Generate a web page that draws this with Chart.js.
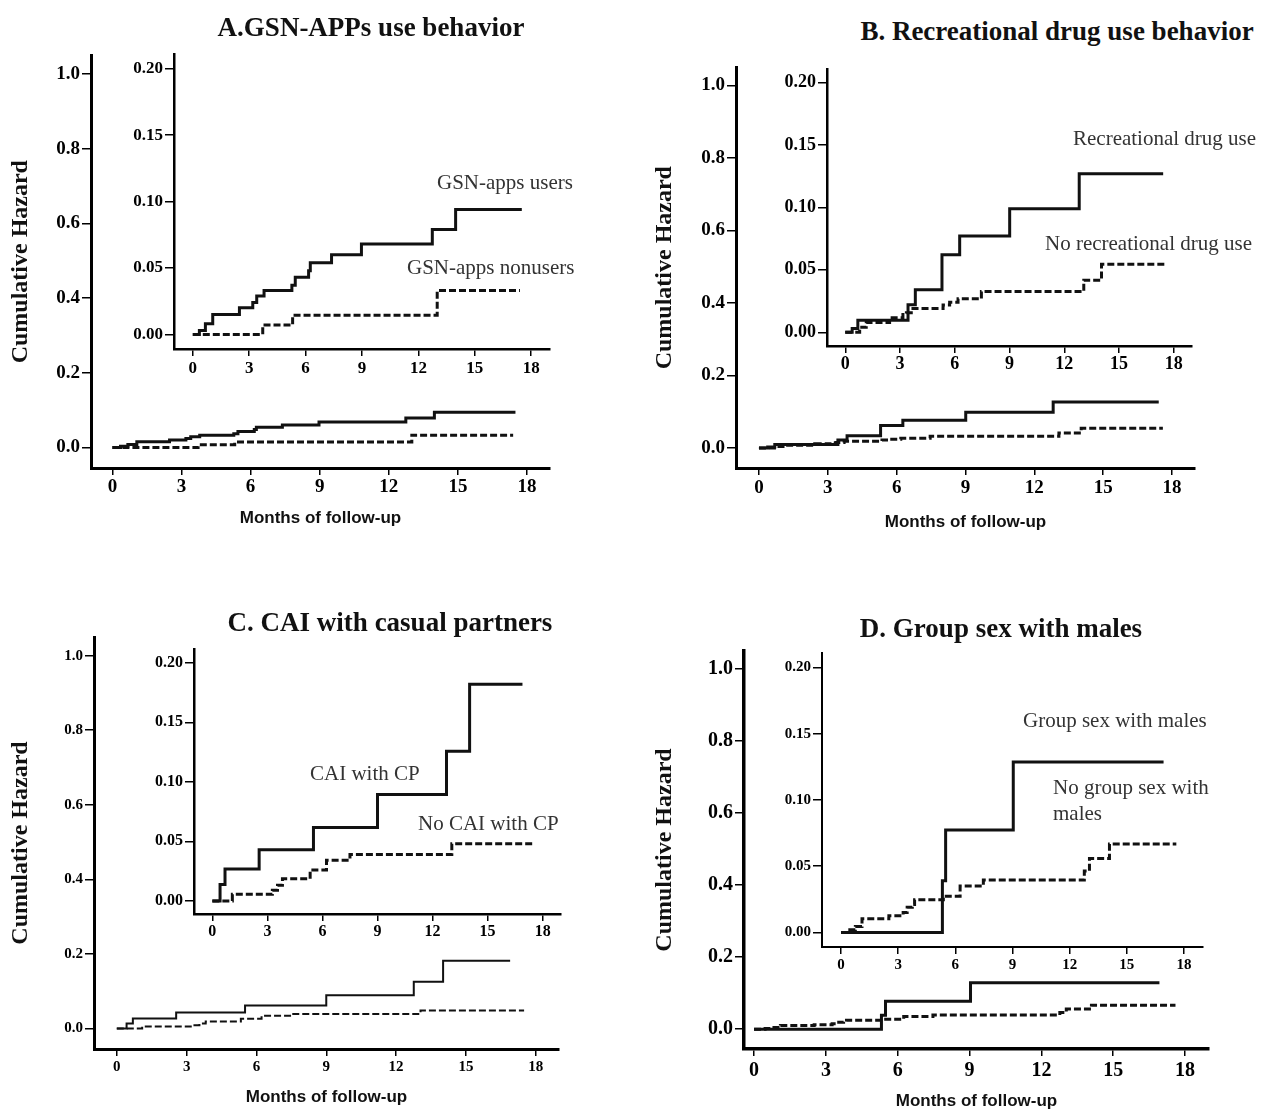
<!DOCTYPE html>
<html>
<head>
<meta charset="utf-8">
<script src="https://cdn.jsdelivr.net/npm/chart.js@4.4.0/dist/chart.umd.min.js"></script>
<style>
    body { margin: 0; background: #fff; }
    #page { position: relative; width: 1262px; height: 1110px; overflow: hidden; background: #fff; }
    #page canvas { position: absolute; }
    .panel-title {
        position: absolute; white-space: nowrap; color: #111;
        font: bold 27px "Liberation Serif", "Times New Roman", serif;
        transform: translate(-50%, -50%);
    }
    .note {
        position: absolute; white-space: nowrap; color: #333;
        font: 21px "Liberation Serif", "Times New Roman", serif;
        line-height: 26px; transform: translateY(-50%);
    }
</style>
</head>
<body>
<div id="page"></div>
<script>
// Axis ticks
const monthTicks = [0, 3, 6, 9, 12, 15, 18];
const mainHazardTicks = [0, 0.2, 0.4, 0.6, 0.8, 1.0];
const insetHazardTicks = [0, 0.05, 0.10, 0.15, 0.20];

// A. GSN-apps use
const appUsersMonths = [0, 0.35, 0.67, 1.06, 2.48, 3.19, 3.4, 3.79, 5.27, 5.45, 6.16, 6.25, 7.38, 8.97, 12.74, 13.98, 17.5];
const appUsersHazard = [0, 0.003, 0.008, 0.015, 0.020, 0.024, 0.029, 0.033, 0.037, 0.043, 0.048, 0.054, 0.060, 0.068, 0.079, 0.094, 0.094];
const appNonusersMonths = [0, 3.72, 5.31, 13.0, 17.4];
const appNonusersHazard = [0, 0.007, 0.0145, 0.033, 0.033];

// B. Recreational drug use
const drugUseMonths = [0, 0.38, 0.69, 3.44, 3.84, 5.3, 6.27, 9.01, 12.82, 17.42];
const drugUseHazard = [0, 0.003, 0.0096, 0.022, 0.034, 0.062, 0.077, 0.099, 0.127, 0.127];
const noDrugUseMonths = [0, 0.79, 1.15, 2.43, 3.16, 3.35, 3.71, 5.36, 5.72, 6.18, 7.46, 13.07, 14.04, 17.6];
const noDrugUseHazard = [0, 0.004, 0.0078, 0.0117, 0.0143, 0.0156, 0.019, 0.0219, 0.024, 0.0268, 0.0326, 0.0417, 0.0544, 0.0544];

// C. CAI with casual partners
const caiMonths = [0, 0.42, 0.69, 2.55, 5.51, 9.0, 12.76, 14.02, 16.9];
const caiHazard = [0, 0.0137, 0.0268, 0.0429, 0.0617, 0.0893, 0.1257, 0.182, 0.182];
const noCaiMonths = [0, 1.09, 3.27, 3.55, 3.82, 5.33, 6.22, 7.5, 13.05, 17.5];
const noCaiHazard = [0, 0.0055, 0.009, 0.0131, 0.0186, 0.026, 0.0342, 0.039, 0.048, 0.048];

// D. Group sex with males
const groupSexMonths = [0, 5.32, 5.49, 9.04, 16.93];
const groupSexHazard = [0, 0.039, 0.0773, 0.1286, 0.1286];
const noGroupSexMonths = [0, 0.46, 0.75, 1.1, 2.51, 3.26, 3.47, 3.74, 3.86, 5.37, 6.25, 7.47, 12.77, 13.04, 14.09, 17.6];
const noGroupSexHazard = [0, 0.002, 0.0044, 0.0104, 0.0126, 0.015, 0.019, 0.021, 0.0247, 0.0274, 0.035, 0.0395, 0.0464, 0.0558, 0.0667, 0.0667];

const SERIF = '"Liberation Serif", "Times New Roman", serif';
const SANS = '"Liberation Sans", Arial, sans-serif';

// Panel layout (pixel boxes are the axis lines of each plot)
const panels = [
    {
        title: 'A.GSN-APPs use behavior', titlePos: [371, 27],
        series: [
            { months: appUsersMonths, hazard: appUsersHazard, dashed: false },
            { months: appNonusersMonths, hazard: appNonusersHazard, dashed: true }
        ],
        notes: [
            { text: 'GSN-apps users', x: 437, y: 182 },
            { text: 'GSN-apps nonusers', x: 407, y: 267 }
        ],
        main: { box: [91, 48, 550, 468], canvasLeft: 0, xMin: -0.93, xAxisH: 61, tickSize: 19, lineWidth: 3, borderWidth: 3, xPad: 1 },
        inset: { box: [174, 48, 550, 349], tickSize: 17, lineWidth: 3, borderWidth: 2.5, xAxisH: 34, xPad: 2 }
    },
    {
        title: 'B. Recreational drug use behavior', titlePos: [1057, 31],
        series: [
            { months: drugUseMonths, hazard: drugUseHazard, dashed: false },
            { months: noDrugUseMonths, hazard: noDrugUseHazard, dashed: true }
        ],
        notes: [
            { text: 'Recreational drug use', x: 1073, y: 138 },
            { text: 'No recreational drug use', x: 1045, y: 243 }
        ],
        main: { box: [736, 60, 1195, 468], canvasLeft: 644, xMin: -1.0, xAxisH: 65, tickSize: 19, lineWidth: 3, borderWidth: 3, xPad: 2 },
        inset: { box: [827, 62, 1192, 346], tickSize: 18, lineWidth: 3, borderWidth: 2.5, xAxisH: 34, xPad: 1 }
    },
    {
        title: 'C. CAI with casual partners', titlePos: [390, 622],
        series: [
            { months: caiMonths, hazard: caiHazard, dashed: false },
            { months: noCaiMonths, hazard: noCaiHazard, dashed: true }
        ],
        notes: [
            { text: 'CAI with CP', x: 310, y: 773 },
            { text: 'No CAI with CP', x: 418, y: 823 }
        ],
        main: { box: [94, 632, 559, 1049], canvasLeft: 0, xMin: -0.98, xAxisH: 59, tickSize: 15, lineWidth: 2, borderWidth: 3, xPad: 2 },
        inset: { box: [194, 644, 561, 914], tickSize: 16, lineWidth: 3, borderWidth: 2.5, xAxisH: 32, xPad: 1 }
    },
    {
        title: 'D. Group sex with males', titlePos: [1001, 628],
        series: [
            { months: groupSexMonths, hazard: groupSexHazard, dashed: false },
            { months: noGroupSexMonths, hazard: noGroupSexHazard, dashed: true }
        ],
        notes: [
            { text: 'Group sex with males', x: 1023, y: 720 },
            { text: 'No group sex with<br>males', x: 1053, y: 800 }
        ],
        main: { box: [744, 643, 1209, 1049], canvasLeft: 644, xMin: -0.42, xAxisH: 63, tickSize: 20, lineWidth: 3, borderWidth: 3.5, xPad: 3 },
        inset: { box: [822, 648, 1203, 947], tickSize: 15, lineWidth: 3, borderWidth: 2, xAxisH: 32, xPad: 2 }
    }
];

const page = document.getElementById('page');

function makeCanvas(left, top, width, height) {
    const canvas = document.createElement('canvas');
    canvas.width = width;
    canvas.height = height;
    canvas.style.left = left + 'px';
    canvas.style.top = top + 'px';
    canvas.style.width = width + 'px';
    canvas.style.height = height + 'px';
    page.appendChild(canvas);
    return canvas;
}

function axisOptions(cfg, isMain, isX) {
    const tickValues = isX ? monthTicks : (isMain ? mainHazardTicks : insetHazardTicks);
    const digits = isMain ? 1 : 2;
    return {
        type: 'linear',
        border: { display: true, color: '#000', width: cfg.borderWidth },
        grid: { drawOnChartArea: false, drawTicks: true, tickLength: isX ? 7 : 9, color: '#000', lineWidth: 1.5 },
        ticks: {
            color: '#000',
            font: { family: SERIF, size: cfg.tickSize, weight: 'bold' },
            padding: isX ? cfg.xPad : 2,
            autoSkip: false,
            maxRotation: 0,
            callback: (value) => isX ? String(value) : Number(value).toFixed(digits)
        },
        afterBuildTicks: (scale) => {
            scale.ticks = tickValues.map(v => ({ value: v }));
        }
    };
}

function drawChart(panel, cfg, isMain) {
    const [left, top, right, bottom] = cfg.box;
    const padTop = 6, padRight = 6;
    const canvasLeft = isMain ? cfg.canvasLeft : left - 56;
    const canvasTop = top - padTop;
    const width = right + padRight - canvasLeft;
    const height = bottom + cfg.xAxisH - canvasTop;
    const yAxisW = left - canvasLeft;
    const canvas = makeCanvas(canvasLeft, canvasTop, width, height);

    const xScale = axisOptions(cfg, isMain, true);
    xScale.min = isMain ? cfg.xMin : -1;
    xScale.max = 19;
    xScale.afterFit = (scale) => { scale.height = cfg.xAxisH; };

    const yScale = axisOptions(cfg, isMain, false);
    yScale.min = isMain ? -0.055 : -0.011;
    yScale.max = isMain ? 1.05 : 0.211;
    yScale.afterFit = (scale) => { scale.width = yAxisW; };

    if (isMain) {
        xScale.title = {
            display: true, text: 'Months of follow-up', color: '#111',
            font: { family: SANS, size: 17, weight: 'bold' }, padding: 0
        };
        yScale.title = {
            display: true, text: 'Cumulative Hazard', color: '#111',
            font: { family: SERIF, size: 24, weight: 'bold' }, padding: { top: 6, bottom: 0 }
        };
    }

    return new Chart(canvas.getContext('2d'), {
        type: 'line',
        data: {
            datasets: panel.series.map(s => ({
                data: s.months.map((m, i) => ({ x: m, y: s.hazard[i] })),
                borderColor: '#111',
                borderWidth: cfg.lineWidth,
                borderDash: s.dashed ? [7, 3] : [],
                stepped: 'before',
                pointRadius: 0,
                fill: false
            }))
        },
        options: {
            responsive: false,
            animation: false,
            events: [],
            layout: { padding: { top: padTop, right: padRight, left: 0, bottom: 0 } },
            plugins: { legend: { display: false }, tooltip: { enabled: false } },
            scales: { x: xScale, y: yScale }
        }
    });
}

panels.forEach(panel => {
    drawChart(panel, panel.main, true);
    drawChart(panel, panel.inset, false);

    const title = document.createElement('div');
    title.className = 'panel-title';
    title.textContent = panel.title;
    title.style.left = panel.titlePos[0] + 'px';
    title.style.top = panel.titlePos[1] + 'px';
    page.appendChild(title);

    panel.notes.forEach(note => {
        const div = document.createElement('div');
        div.className = 'note';
        div.innerHTML = note.text;
        div.style.left = note.x + 'px';
        div.style.top = note.y + 'px';
        page.appendChild(div);
    });
});
</script>
</body>
</html>
